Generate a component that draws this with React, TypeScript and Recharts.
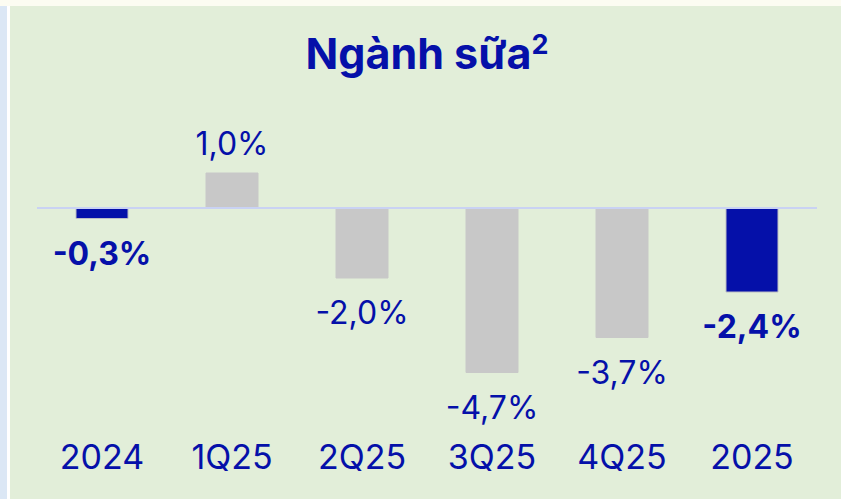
import { BarChart, Bar, XAxis, YAxis, Cell, LabelList, ReferenceLine } from "recharts";

const categories = ["2024", "1Q25", "2Q25", "3Q25", "4Q25", "2025"];
const growth = [-0.3, 1.0, -2.0, -4.7, -3.7, -2.4];
const highlighted = [true, false, false, false, false, true];

const BLUE = "#0510a9";
const GRAY = "#c8c8c8";
const FONT = "Inter, 'Liberation Sans', Arial, sans-serif";

const data = categories.map((name, i) => ({
  name,
  value: growth[i],
  hi: highlighted[i],
}));

const fmt = (v: number) => (v < 0 ? "-" : "") + Math.abs(v).toFixed(1).replace(".", ",") + "%";

const ValueLabel = (props: any) => {
  const { x, y, width, height, value, index } = props;
  const neg = value < 0;
  const top = Math.min(y, y + height);
  const bottom = Math.max(y, y + height);
  const bold = highlighted[index];
  return (
    <text
      x={x + width / 2}
      y={neg ? bottom + 46 : top - 18}
      textAnchor="middle"
      fill={BLUE}
      fontFamily={FONT}
      fontSize={32}
      fontWeight={bold ? 700 : 400}
    >
      {fmt(value)}
    </text>
  );
};

const CatTick = (props: any) => {
  const { x, y, payload } = props;
  return (
    <text x={x} y={y} dy={49} textAnchor="middle" fill={BLUE} fontFamily={FONT} fontSize={34}>
      {payload.value}
    </text>
  );
};

export default function App() {
  return (
    <div style={{ position: "absolute", left: 0, top: 0, width: 841, height: 499, background: "#fcfcf2", overflow: "hidden" }}>
      <div style={{ position: "absolute", left: 0, top: 6, width: 7, height: 493, background: "#dbe7f5" }} />
      <div style={{ position: "absolute", left: 7, top: 6, width: 3, height: 493, background: "#ffffff" }} />
      <div style={{ position: "absolute", left: 10, top: 6, width: 831, height: 493, background: "#e2eed9" }}>
        <div
          style={{
            position: "absolute",
            left: 0,
            top: 17,
            width: 834,
            textAlign: "center",
            color: BLUE,
            fontFamily: FONT,
            fontWeight: 700,
            fontSize: 43,
            lineHeight: "43px",
          }}
        >
          Ngành sữa<span style={{ fontSize: 27, verticalAlign: 15 }}>2</span>
        </div>
        <BarChart
          width={831}
          height={493}
          data={data}
          margin={{ top: 132, right: 24, left: 27, bottom: 0 }}
          barCategoryGap={0}
        >
          <XAxis dataKey="name" axisLine={false} tickLine={false} tickSize={0} height={81} tick={<CatTick />} interval={0} />
          <YAxis hide domain={[-6, 2]} />
          <ReferenceLine y={0} stroke="#c9d2f3" strokeWidth={2} />
          <Bar dataKey="value" barSize={52} isAnimationActive={false}>
            {data.map((d, i) => (
              <Cell key={i} fill={d.hi ? BLUE : GRAY} stroke={d.hi ? "#bcbcc4" : GRAY} strokeWidth={1} />
            ))}
            <LabelList dataKey="value" content={<ValueLabel />} />
          </Bar>
        </BarChart>
      </div>
    </div>
  );
}
